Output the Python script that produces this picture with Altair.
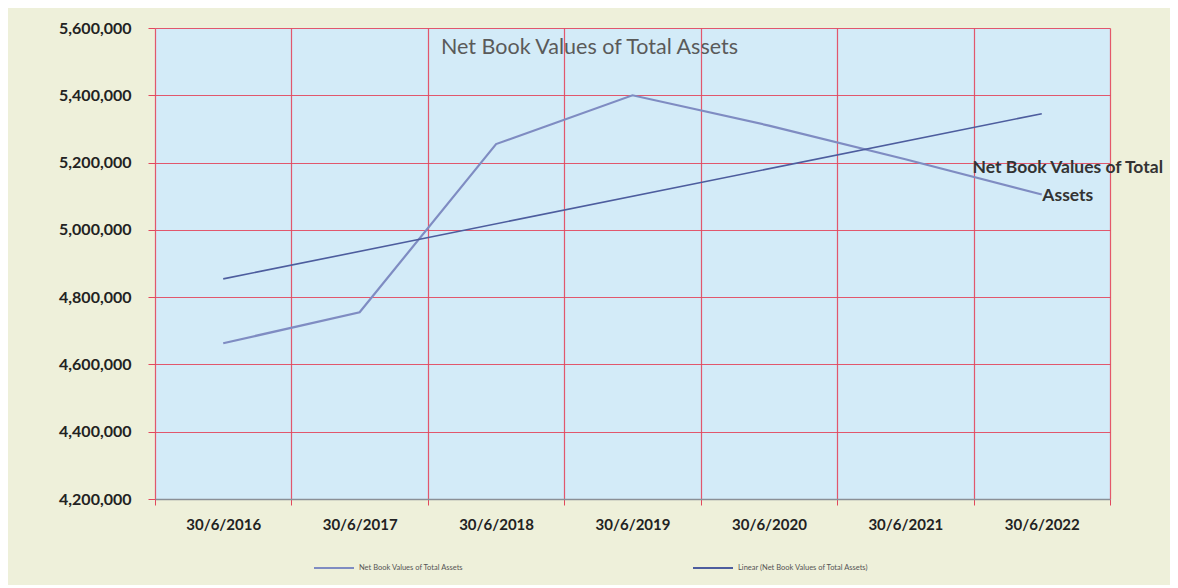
import altair as alt
import pandas as pd

dates = ["30/6/2016", "30/6/2017", "30/6/2018", "30/6/2019", "30/6/2020", "30/6/2021", "30/6/2022"]
net_book_values = [4663000, 4755000, 5255000, 5400000, 5310000, 5210000, 5105000]
y_ticks = [4200000, 4400000, 4600000, 4800000, 5000000, 5200000, 5400000, 5600000]
series_name = "Net Book Values of Total Assets"
trend_name = "Linear (Net Book Values of Total Assets)"
label_lines = ["Net Book Values of Total", "Assets"]

df = pd.DataFrame({
    "idx": list(range(len(dates))),
    "date": dates,
    "value": net_book_values,
    "series": [series_name] * len(dates),
})

date_expr = "[" + ",".join("'" + d + "'" for d in dates) + "][round(datum.idx)]"

GRID = "#e2475d"
FONT = "Lato"

x_enc = alt.X(
    "date:O",
    sort=dates,
    scale=alt.Scale(type="band", domain=dates, paddingInner=0, paddingOuter=0),
    axis=alt.Axis(
        title=None, labelAngle=0, tickBand="extent", grid=True,
        gridColor=GRID, gridWidth=1.2, gridOpacity=0.9,
        tickColor=GRID, tickSize=6, labelPadding=12,
        domainColor="#8a8f96", domainWidth=1.5,
        labelFont=FONT, labelFontSize=15, labelFontWeight="bold", labelColor="#222222",
    ),
)
y_enc = alt.Y(
    "value:Q",
    scale=alt.Scale(domain=[y_ticks[0], y_ticks[-1]], nice=False, zero=False),
    axis=alt.Axis(
        title=None, values=y_ticks, labelExpr="format(datum.value, ',')", grid=True,
        gridColor=GRID, gridWidth=1.2, gridOpacity=0.9,
        domain=False, tickColor=GRID, tickSize=7, labelPadding=17,
        labelFont=FONT, labelFontSize=16, labelFontWeight="bold", labelColor="#222222",
    ),
)
color = alt.Color(
    "series:N",
    scale=alt.Scale(domain=[series_name, trend_name], range=["#7f8cc2", "#4d5d9e"]),
    legend=alt.Legend(
        title=None, orient="none", direction="horizontal", legendX=158, legendY=519,
        symbolType="stroke", symbolSize=1600, symbolStrokeWidth=2,
        labelFont=FONT, labelFontSize=7.5, labelColor="#555555",
        columnPadding=225, labelOffset=4,
    ),
)

base = alt.Chart(df)

main = base.mark_line(strokeWidth=2.2).encode(x=x_enc, y=y_enc, color=color)

trend = base.transform_regression(
    "idx", "value", method="linear", extent=[0, len(dates) - 1]
).transform_calculate(
    date=date_expr, series="'" + trend_name + "'"
).mark_line(strokeWidth=1.6).encode(x=x_enc, y=y_enc, color=color)

label = base.transform_filter(
    "datum.idx == " + str(len(dates) - 1)
).mark_text(
    text=label_lines, align="center", baseline="top", dx=26, dy=-36,
    font=FONT, fontSize=17.5, fontWeight="bold", color="#333333", lineHeight=28,
).encode(x=x_enc, y=y_enc)

chart = alt.layer(main, trend, label).properties(
    width=955,
    height=471,
    title=alt.Title(
        series_name, anchor="middle", dx=-43, offset=-38, font=FONT,
        fontSize=21.5, fontWeight="normal", color="#5a5a5a",
    ),
    autosize=alt.AutoSizeParams(type="none"),
    padding={"left": 147, "top": 20, "right": 60, "bottom": 86},
).configure(
    background="#eef0da",
).configure_view(
    fill="#d3ebf8", stroke=None,
)

chart.save("out.html", embed_options={"renderer": "svg", "actions": False})
